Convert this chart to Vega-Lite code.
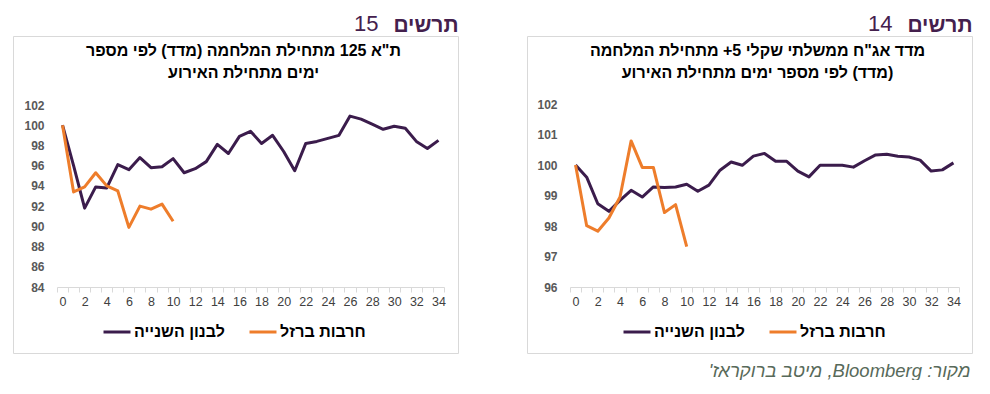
{
  "$schema": "https://vega.github.io/schema/vega-lite/v6.json",
  "background": "white",
  "padding": {"left": 12, "top": 11, "right": 0, "bottom": 0},
  "config": {
    "font": "Liberation Sans",
    "view": {"stroke": "#d9d9d9", "strokeWidth": 1}
  },
  "title": {
    "text": "\u202bמקור: Bloomberg, מיטב ברוקראז'\u202c",
    "orient": "bottom",
    "anchor": "end",
    "fontSize": 18.5,
    "fontStyle": "italic",
    "fontWeight": "normal",
    "color": "#586a5a",
    "offset": 8,
    "dx": -2
  },
  "datasets": {
    "ta": [
      {"series": "לבנון השנייה", "day": 0, "value": 100},
      {"series": "לבנון השנייה", "day": 1, "value": 96},
      {"series": "לבנון השנייה", "day": 2, "value": 91.8},
      {"series": "לבנון השנייה", "day": 3, "value": 93.9},
      {"series": "לבנון השנייה", "day": 4, "value": 93.8},
      {"series": "לבנון השנייה", "day": 5, "value": 96.1},
      {"series": "לבנון השנייה", "day": 6, "value": 95.6},
      {"series": "לבנון השנייה", "day": 7, "value": 96.8},
      {"series": "לבנון השנייה", "day": 8, "value": 95.8},
      {"series": "לבנון השנייה", "day": 9, "value": 95.9},
      {"series": "לבנון השנייה", "day": 10, "value": 96.7},
      {"series": "לבנון השנייה", "day": 11, "value": 95.3},
      {"series": "לבנון השנייה", "day": 12, "value": 95.7},
      {"series": "לבנון השנייה", "day": 13, "value": 96.4},
      {"series": "לבנון השנייה", "day": 14, "value": 98.1},
      {"series": "לבנון השנייה", "day": 15, "value": 97.2},
      {"series": "לבנון השנייה", "day": 16, "value": 98.9},
      {"series": "לבנון השנייה", "day": 17, "value": 99.4},
      {"series": "לבנון השנייה", "day": 18, "value": 98.2},
      {"series": "לבנון השנייה", "day": 19, "value": 99.0},
      {"series": "לבנון השנייה", "day": 20, "value": 97.4},
      {"series": "לבנון השנייה", "day": 21, "value": 95.5},
      {"series": "לבנון השנייה", "day": 22, "value": 98.2},
      {"series": "לבנון השנייה", "day": 23, "value": 98.4},
      {"series": "לבנון השנייה", "day": 24, "value": 98.7},
      {"series": "לבנון השנייה", "day": 25, "value": 99.0},
      {"series": "לבנון השנייה", "day": 26, "value": 100.9},
      {"series": "לבנון השנייה", "day": 27, "value": 100.6},
      {"series": "לבנון השנייה", "day": 28, "value": 100.1},
      {"series": "לבנון השנייה", "day": 29, "value": 99.6},
      {"series": "לבנון השנייה", "day": 30, "value": 99.9},
      {"series": "לבנון השנייה", "day": 31, "value": 99.7},
      {"series": "לבנון השנייה", "day": 32, "value": 98.4},
      {"series": "לבנון השנייה", "day": 33, "value": 97.7},
      {"series": "לבנון השנייה", "day": 34, "value": 98.5},
      {"series": "חרבות ברזל", "day": 0, "value": 100},
      {"series": "חרבות ברזל", "day": 1, "value": 93.4},
      {"series": "חרבות ברזל", "day": 2, "value": 93.9},
      {"series": "חרבות ברזל", "day": 3, "value": 95.3},
      {"series": "חרבות ברזל", "day": 4, "value": 94.0},
      {"series": "חרבות ברזל", "day": 5, "value": 93.5},
      {"series": "חרבות ברזל", "day": 6, "value": 89.9},
      {"series": "חרבות ברזל", "day": 7, "value": 92.0},
      {"series": "חרבות ברזל", "day": 8, "value": 91.7},
      {"series": "חרבות ברזל", "day": 9, "value": 92.2},
      {"series": "חרבות ברזל", "day": 10, "value": 90.5}
    ],
    "bond": [
      {"series": "לבנון השנייה", "day": 0, "value": 100},
      {"series": "לבנון השנייה", "day": 1, "value": 99.6},
      {"series": "לבנון השנייה", "day": 2, "value": 98.73},
      {"series": "לבנון השנייה", "day": 3, "value": 98.48},
      {"series": "לבנון השנייה", "day": 4, "value": 98.84},
      {"series": "לבנון השנייה", "day": 5, "value": 99.17},
      {"series": "לבנון השנייה", "day": 6, "value": 98.95},
      {"series": "לבנון השנייה", "day": 7, "value": 99.28},
      {"series": "לבנון השנייה", "day": 8, "value": 99.26},
      {"series": "לבנון השנייה", "day": 9, "value": 99.28},
      {"series": "לבנון השנייה", "day": 10, "value": 99.37},
      {"series": "לבנון השנייה", "day": 11, "value": 99.14},
      {"series": "לבנון השנייה", "day": 12, "value": 99.34},
      {"series": "לבנון השנייה", "day": 13, "value": 99.83},
      {"series": "לבנון השנייה", "day": 14, "value": 100.1},
      {"series": "לבנון השנייה", "day": 15, "value": 99.99},
      {"series": "לבנון השנייה", "day": 16, "value": 100.29},
      {"series": "לבנון השנייה", "day": 17, "value": 100.38},
      {"series": "לבנון השנייה", "day": 18, "value": 100.12},
      {"series": "לבנון השנייה", "day": 19, "value": 100.12},
      {"series": "לבנון השנייה", "day": 20, "value": 99.8},
      {"series": "לבנון השנייה", "day": 21, "value": 99.61},
      {"series": "לבנון השנייה", "day": 22, "value": 99.99},
      {"series": "לבנון השנייה", "day": 23, "value": 99.99},
      {"series": "לבנון השנייה", "day": 24, "value": 99.99},
      {"series": "לבנון השנייה", "day": 25, "value": 99.93},
      {"series": "לבנון השנייה", "day": 26, "value": 100.14},
      {"series": "לבנון השנייה", "day": 27, "value": 100.33},
      {"series": "לבנון השנייה", "day": 28, "value": 100.35},
      {"series": "לבנון השנייה", "day": 29, "value": 100.29},
      {"series": "לבנון השנייה", "day": 30, "value": 100.26},
      {"series": "לבנון השנייה", "day": 31, "value": 100.16},
      {"series": "לבנון השנייה", "day": 32, "value": 99.8},
      {"series": "לבנון השנייה", "day": 33, "value": 99.84},
      {"series": "לבנון השנייה", "day": 34, "value": 100.07},
      {"series": "חרבות ברזל", "day": 0, "value": 100},
      {"series": "חרבות ברזל", "day": 1, "value": 98.01},
      {"series": "חרבות ברזל", "day": 2, "value": 97.83},
      {"series": "חרבות ברזל", "day": 3, "value": 98.26},
      {"series": "חרבות ברזל", "day": 4, "value": 98.95},
      {"series": "חרבות ברזל", "day": 5, "value": 100.79},
      {"series": "חרבות ברזל", "day": 6, "value": 99.92},
      {"series": "חרבות ברזל", "day": 7, "value": 99.92},
      {"series": "חרבות ברזל", "day": 8, "value": 98.44},
      {"series": "חרבות ברזל", "day": 9, "value": 98.7},
      {"series": "חרבות ברזל", "day": 10, "value": 97.32}
    ]
  },
  "spacing": 67,
  "resolve": {
    "scale": {"x": "independent", "y": "independent", "color": "independent"},
    "legend": {"color": "independent"}
  },
  "hconcat": [
    {
      "title": {
        "text": "תרשים",
        "anchor": "end",
        "fontSize": 21,
        "fontWeight": "bold",
        "color": "#44204d",
        "offset": -24
      },
      "vconcat": [
        {
          "width": 445,
          "height": 317,
          "title": {
            "text": ["\u202bת\"א 125 מתחילת המלחמה (מדד) לפי מספר\u202c", "\u202bימים מתחילת האירוע\u202c"],
            "anchor": "middle",
            "offset": -69,
            "fontSize": 16,
            "fontWeight": "bold",
            "color": "#000000",
            "lineHeight": 22,
            "dx": 8
          },
          "data": {"name": "ta"},
          "mark": {"type": "line", "strokeWidth": 3, "strokeJoin": "round"},
          "encoding": {
            "x": {
              "field": "day",
              "type": "quantitative",
              "scale": {"domain": [-0.5, 34.5], "range": [44, 431], "zero": false, "nice": false},
              "axis": {
                "title": null,
                "orient": "bottom",
                "offset": -66,
                "grid": false,
                "domainColor": "#d9d9d9",
                "tickColor": "#d9d9d9",
                "tickSize": 5,
                "tickOpacity": {"condition": {"test": "datum.value % 1 === 0", "value": 0}, "value": 1},
                "values": [-0.5, 0, 0.5, 1.5, 2, 2.5, 3.5, 4, 4.5, 5.5, 6, 6.5, 7.5, 8, 8.5, 9.5, 10, 10.5, 11.5, 12, 12.5, 13.5, 14, 14.5, 15.5, 16, 16.5, 17.5, 18, 18.5, 19.5, 20, 20.5, 21.5, 22, 22.5, 23.5, 24, 24.5, 25.5, 26, 26.5, 27.5, 28, 28.5, 29.5, 30, 30.5, 31.5, 32, 32.5, 33.5, 34, 34.5],
                "labelExpr": "datum.value % 1 === 0 ? format(datum.value, 'd') : ''",
                "labelOverlap": false,
                "labelFlush": false,
                "labelPadding": 3,
                "labelFontSize": 12.5,
                "labelColor": "#404040"
              }
            },
            "y": {
              "field": "value",
              "type": "quantitative",
              "scale": {"domain": [84, 102], "range": [251, 69], "zero": false, "nice": false},
              "axis": {
                "title": "15",
                "titleAngle": 0,
                "titleX": 365,
                "titleY": -6,
                "titleAlign": "right",
                "titleBaseline": "alphabetic",
                "titleFontSize": 22,
                "titleFontWeight": "normal",
                "titleColor": "#44204d",
                "values": [84, 86, 88, 90, 92, 94, 96, 98, 100, 102],
                "grid": false,
                "domain": false,
                "ticks": false,
                "tickSize": 0,
                "labelPadding": -31,
                "labelFontSize": 12,
                "labelFontWeight": "bold",
                "labelColor": "#595959"
              }
            },
            "color": {
              "field": "series",
              "type": "nominal",
              "scale": {"domain": ["לבנון השנייה", "חרבות ברזל"], "range": ["#3b1c4c", "#ee7d2b"]},
              "legend": {
                "title": null,
                "orient": "none",
                "legendX": 89,
                "legendY": 281,
                "direction": "horizontal",
                "symbolType": "stroke",
                "symbolSize": 729,
                "symbolStrokeWidth": 3,
                "labelFontSize": 16,
                "labelFontWeight": "bold",
                "labelColor": "#000000",
                "labelOffset": 2,
                "columnPadding": 18
              }
            }
          }
        }
      ]
    },
    {
      "title": {
        "text": "תרשים",
        "anchor": "end",
        "fontSize": 21,
        "fontWeight": "bold",
        "color": "#44204d",
        "offset": -24
      },
      "vconcat": [
        {
          "width": 445,
          "height": 317,
          "title": {
            "text": ["\u202bמדד אג\"ח ממשלתי שקלי 5+ מתחילת המלחמה\u202c", "\u202b(מדד) לפי מספר ימים מתחילת האירוע\u202c"],
            "anchor": "middle",
            "offset": -69,
            "fontSize": 16,
            "fontWeight": "bold",
            "color": "#000000",
            "lineHeight": 22,
            "dx": 8
          },
          "data": {"name": "bond"},
          "mark": {"type": "line", "strokeWidth": 3, "strokeJoin": "round"},
          "encoding": {
            "x": {
              "field": "day",
              "type": "quantitative",
              "scale": {"domain": [-0.5, 34.5], "range": [43, 432], "zero": false, "nice": false},
              "axis": {
                "title": null,
                "orient": "bottom",
                "offset": -66,
                "grid": false,
                "domainColor": "#d9d9d9",
                "tickColor": "#d9d9d9",
                "tickSize": 5,
                "tickOpacity": {"condition": {"test": "datum.value % 1 === 0", "value": 0}, "value": 1},
                "values": [-0.5, 0, 0.5, 1.5, 2, 2.5, 3.5, 4, 4.5, 5.5, 6, 6.5, 7.5, 8, 8.5, 9.5, 10, 10.5, 11.5, 12, 12.5, 13.5, 14, 14.5, 15.5, 16, 16.5, 17.5, 18, 18.5, 19.5, 20, 20.5, 21.5, 22, 22.5, 23.5, 24, 24.5, 25.5, 26, 26.5, 27.5, 28, 28.5, 29.5, 30, 30.5, 31.5, 32, 32.5, 33.5, 34, 34.5],
                "labelExpr": "datum.value % 1 === 0 ? format(datum.value, 'd') : ''",
                "labelOverlap": false,
                "labelFlush": false,
                "labelPadding": 3,
                "labelFontSize": 12.5,
                "labelColor": "#404040"
              }
            },
            "y": {
              "field": "value",
              "type": "quantitative",
              "scale": {"domain": [96, 102], "range": [251, 68], "zero": false, "nice": false},
              "axis": {
                "title": "14",
                "titleAngle": 0,
                "titleX": 365,
                "titleY": -6,
                "titleAlign": "right",
                "titleBaseline": "alphabetic",
                "titleFontSize": 22,
                "titleFontWeight": "normal",
                "titleColor": "#44204d",
                "values": [96, 97, 98, 99, 100, 101, 102],
                "grid": false,
                "domain": false,
                "ticks": false,
                "tickSize": 0,
                "labelPadding": -30,
                "labelFontSize": 12,
                "labelFontWeight": "bold",
                "labelColor": "#595959"
              }
            },
            "color": {
              "field": "series",
              "type": "nominal",
              "scale": {"domain": ["לבנון השנייה", "חרבות ברזל"], "range": ["#3b1c4c", "#ee7d2b"]},
              "legend": {
                "title": null,
                "orient": "none",
                "legendX": 95,
                "legendY": 281,
                "direction": "horizontal",
                "symbolType": "stroke",
                "symbolSize": 729,
                "symbolStrokeWidth": 3,
                "labelFontSize": 16,
                "labelFontWeight": "bold",
                "labelColor": "#000000",
                "labelOffset": 2,
                "columnPadding": 18
              }
            }
          }
        }
      ]
    }
  ]
}
